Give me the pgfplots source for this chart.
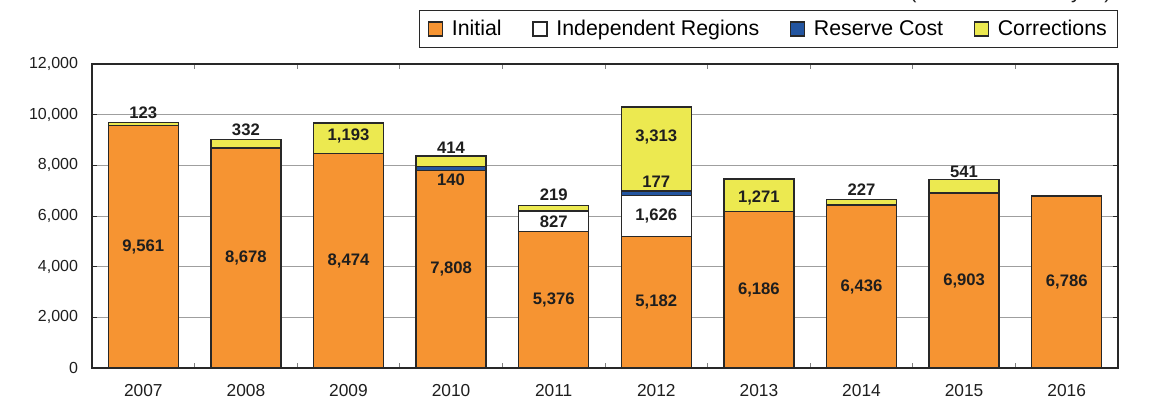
\documentclass[border=0pt]{standalone}
\usepackage{fontspec}
\setmainfont{Liberation Sans}
\usepackage{pgfplots}
\pgfplotsset{compat=1.18}
\definecolor{orng}{RGB}{246,148,50}
\definecolor{ylw}{RGB}{236,233,80}
\definecolor{blu}{RGB}{35,85,160}
\definecolor{edge}{RGB}{40,40,40}
\definecolor{txt}{RGB}{30,30,30}
\pgfplotsset{sq legend/.style={legend image code/.code={\draw[##1] (0pt,-5.25pt) rectangle (10.5pt,5.25pt); \path (15pt,0pt);}}}
\tikzset{lbl/.style={font=\fontsize{12.5}{14}\selectfont\bfseries, text=txt}}
\begin{document}
\begin{tikzpicture}
\path[use as bounding box] (-69pt,-26.25pt) rectangle (797.25pt,276pt);
\clip (-69pt,-26.25pt) rectangle (797.25pt,276pt);
\node[anchor=base east, font=\fontsize{15.5}{18}\selectfont, text=txt] at (768pt,277pt) {(Unit: 100 million yen)};
\begin{axis}[at={(0,0)}, anchor=south west, scale only axis,
  width=769.5pt, height=228pt,
  ybar stacked, bar width=52.5pt, sq legend,
  xmin=-0.5, xmax=9.5, ymin=0, ymax=12000,
  xtick={0,...,9},
  minor xtick={0.5,1.5,...,8.5},
  xticklabels={2007,2008,2009,2010,2011,2012,2013,2014,2015,2016},
  ytick={0,2000,4000,6000,8000,10000,12000},
  scaled y ticks=false,
  yticklabel style={/pgf/number format/1000 sep={,}, font=\fontsize{12}{14}\selectfont, xshift=-7pt},
  xticklabel style={font=\fontsize{13}{15}\selectfont, yshift=-9pt},
  /pgf/number format/assume math mode=true,
  ticklabel style={text=txt},
  ymajorgrids, grid style={gray!75, line width=0.6pt},
  axis line style={edge, line width=1pt},
  x tick style={draw=none},
  minor x tick style={draw=gray, line width=0.6pt},
  minor tick length=4pt,
  y tick style={edge, line width=0.6pt},
  major tick length=4pt,
  tick align=inside,
  legend style={at={(1,1.176)}, anchor=north east, legend columns=4,
    draw=edge, line width=0.7pt, font=\fontsize{16}{19}\selectfont,
    inner xsep=6pt, inner ysep=5pt,
    /tikz/every even column/.append style={column sep=21pt}},
  every axis plot/.append style={draw=edge, line width=1pt},
]
\addplot[fill=orng] coordinates {(0,9561) (1,8678) (2,8474) (3,7808) (4,5376) (5,5182) (6,6186) (7,6436) (8,6903) (9,6786)};
\addplot[fill=white] coordinates {(0,0) (1,0) (2,0) (3,0) (4,827) (5,1626) (6,0) (7,0) (8,0) (9,0)};
\addplot[fill=blu] coordinates {(0,0) (1,0) (2,0) (3,140) (4,0) (5,177) (6,0) (7,0) (8,0) (9,0)};
\addplot[fill=ylw] coordinates {(0,123) (1,332) (2,1193) (3,414) (4,219) (5,3313) (6,1271) (7,227) (8,541) (9,0)};
\legend{Initial, Independent Regions, Reserve Cost, Corrections}
\coordinate (a0) at (axis cs:0,4780);
\coordinate (a1) at (axis cs:1,4339);
\coordinate (a2) at (axis cs:2,4237);
\coordinate (a3) at (axis cs:3,3904);
\coordinate (a4) at (axis cs:4,2688);
\coordinate (a5) at (axis cs:5,2591);
\coordinate (a6) at (axis cs:6,3093);
\coordinate (a7) at (axis cs:7,3218);
\coordinate (a8) at (axis cs:8,3451);
\coordinate (a9) at (axis cs:9,3393);
\coordinate (b4) at (axis cs:4,5790);
\coordinate (b5) at (axis cs:5,5995);
\coordinate (c3) at (axis cs:3,7420);
\coordinate (c5) at (axis cs:5,7340);
\coordinate (d5) at (axis cs:5,9120);
\coordinate (d2) at (axis cs:2,9150);
\coordinate (d6) at (axis cs:6,6700);
\coordinate (d0) at (axis cs:0,10070);
\coordinate (d1) at (axis cs:1,9400);
\coordinate (d3) at (axis cs:3,8680);
\coordinate (d4) at (axis cs:4,6830);
\coordinate (d7) at (axis cs:7,7030);
\coordinate (d8) at (axis cs:8,7740);
\end{axis}
\node[lbl] at (a0) {9,561};
\node[lbl] at (a1) {8,678};
\node[lbl] at (a2) {8,474};
\node[lbl] at (a3) {7,808};
\node[lbl] at (a4) {5,376};
\node[lbl] at (a5) {5,182};
\node[lbl] at (a6) {6,186};
\node[lbl] at (a7) {6,436};
\node[lbl] at (a8) {6,903};
\node[lbl] at (a9) {6,786};
\node[lbl] at (b4) {827};
\node[lbl] at (b5) {1,626};
\node[lbl] at (c3) {140};
\node[lbl] at (c5) {177};
\node[lbl] at (d5) {3,313};
\node[lbl] at (d2) {1,193};
\node[lbl] at (d6) {1,271};
\node[lbl] at (d0) {123};
\node[lbl] at (d1) {332};
\node[lbl] at (d3) {414};
\node[lbl] at (d4) {219};
\node[lbl] at (d7) {227};
\node[lbl] at (d8) {541};
\end{tikzpicture}
\end{document}
